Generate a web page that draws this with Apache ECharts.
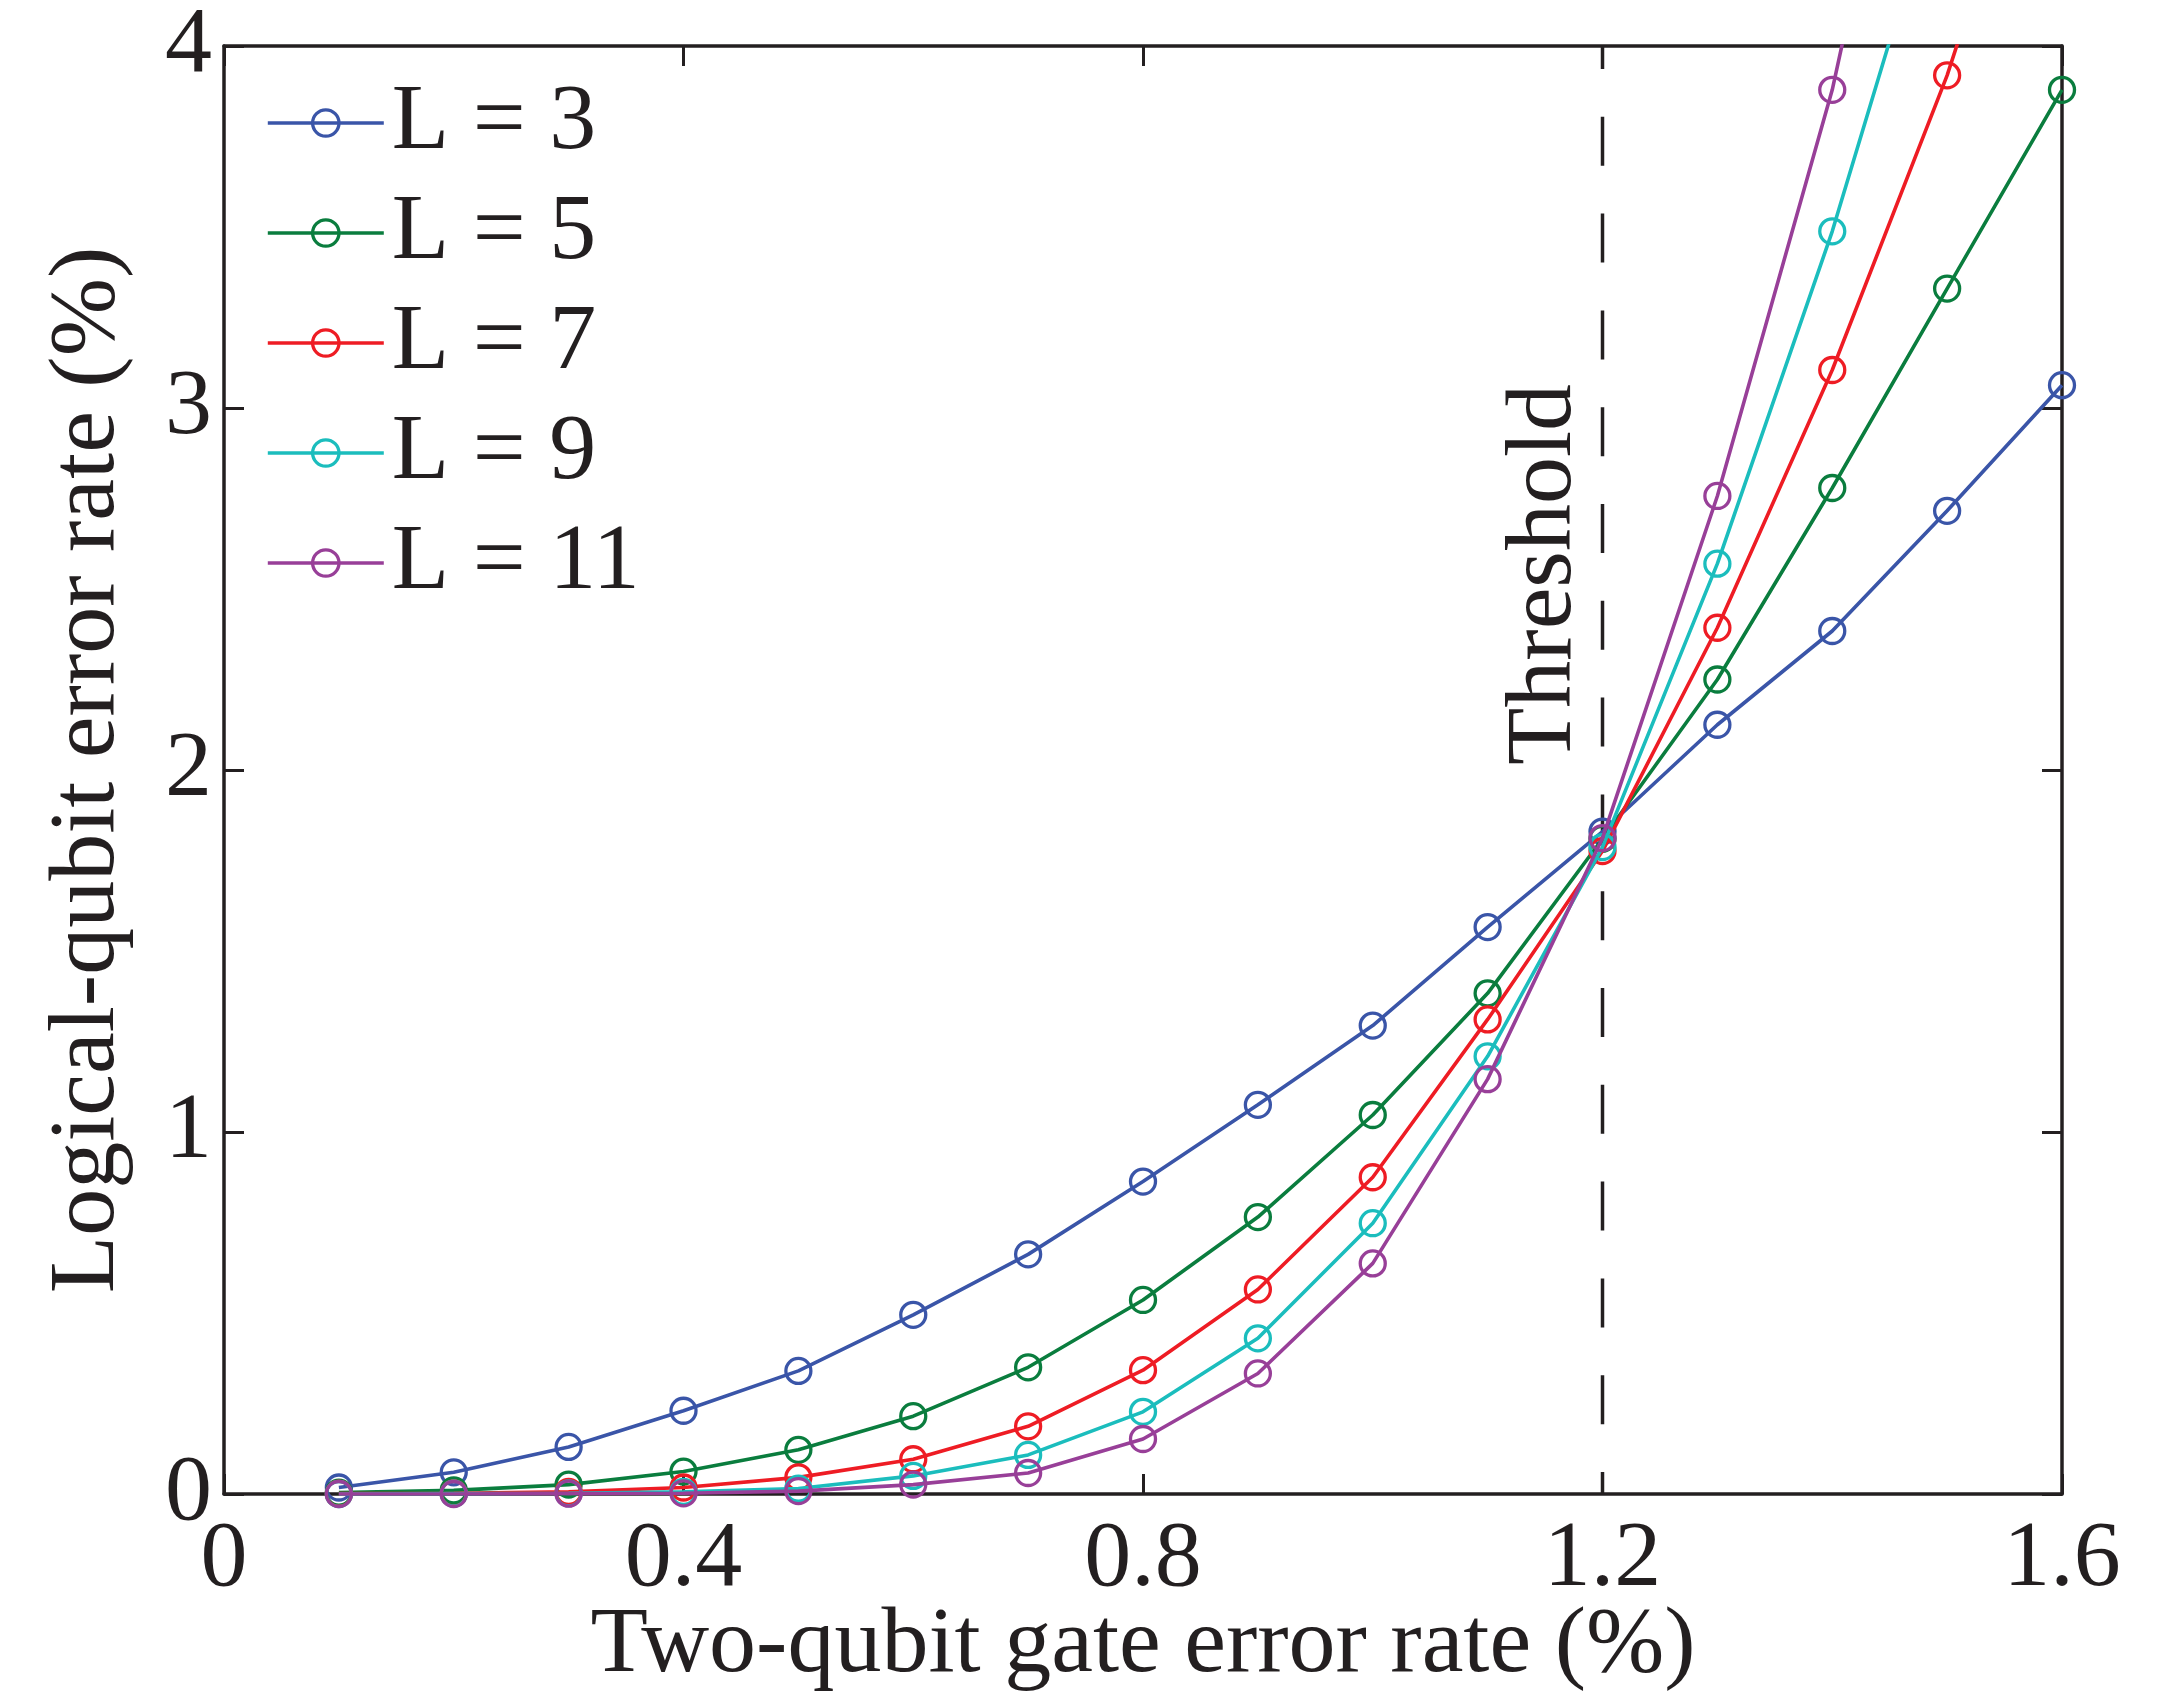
<!DOCTYPE html>
<html>
<head>
<meta charset="utf-8">
<script src="https://cdn.jsdelivr.net/npm/echarts@6/dist/echarts.min.js"></script>
<style>
html,body{margin:0;padding:0;background:#fff;}
#chart{width:2183px;height:1696px;}
</style>
</head>
<body>
<div id="chart"></div>
<script>
// Two-qubit gate error rate (%)
const xValues = [0.1, 0.2, 0.3, 0.4, 0.5, 0.6, 0.7, 0.8, 0.9, 1.0, 1.1, 1.2, 1.3, 1.4, 1.5, 1.6];
// Logical-qubit error rate (%) per code size
const seriesNames = ['L = 3', 'L = 5', 'L = 7', 'L = 9', 'L = 11'];
const L3  = [0.018, 0.060, 0.130, 0.230, 0.340, 0.495, 0.662, 0.863, 1.075, 1.294, 1.566, 1.830, 2.125, 2.384, 2.716, 3.063];
const L5  = [0.004, 0.010, 0.026, 0.062, 0.122, 0.215, 0.350, 0.536, 0.765, 1.047, 1.383, 1.810, 2.250, 2.779, 3.330, 3.879];
const L7  = [0.001, 0.002, 0.006, 0.018, 0.046, 0.096, 0.187, 0.342, 0.565, 0.875, 1.311, 1.776, 2.393, 3.105, 3.919, 4.890];
const L9  = [0.000, 0.001, 0.002, 0.006, 0.015, 0.050, 0.108, 0.227, 0.430, 0.748, 1.209, 1.787, 2.570, 3.488, 4.540];
const L11 = [0.000, 0.000, 0.001, 0.002, 0.008, 0.026, 0.058, 0.152, 0.333, 0.637, 1.146, 1.812, 2.757, 3.879, 5.330];
const seriesValues = [L3, L5, L7, L9, L11];
const seriesColors = ['#3a55a8', '#0a7d3e', '#ee1c24', '#1bbdbd', '#983f98'];
// Threshold
const thresholdX = 1.2;
const thresholdLabel = 'Threshold';
// Axes
const xTicks = [0, 0.4, 0.8, 1.2, 1.6];
const yTicks = [0, 1, 2, 3, 4];
const xTitle = 'Two-qubit gate error rate (%)';
const yTitle = 'Logical-qubit error rate (%)';

const FONT = '"Liberation Serif", "Times New Roman", serif';
const INK = '#231f20';
const LINE_W = 3.6;
const MARK_W = 3.3;

const chart = echarts.init(document.getElementById('chart'), null, {renderer: 'canvas'});

function axisBase(extra) {
  return Object.assign({
    type: 'value',
    axisLine: {show: true, onZero: false, lineStyle: {color: INK, width: 3.5}},
    axisTick: {show: true, inside: true, length: 20, lineStyle: {color: INK, width: 3}},
    splitLine: {show: false}
  }, extra);
}

const series = [];
series.push({
  name: 'threshold-line',
  type: 'line',
  data: [[thresholdX, yTicks[yTicks.length - 1]], [thresholdX, yTicks[0]]],
  symbol: 'none',
  silent: true,
  z: 1,
  lineStyle: {color: INK, width: 3.5, type: [49, 47.8], dashOffset: 26},
  xAxisIndex: 0, yAxisIndex: 0
});
seriesNames.forEach((name, i) => {
  series.push({
    name: name,
    type: 'line',
    data: seriesValues[i].map((v, j) => [xValues[j], v]),
    symbol: 'circle',
    symbolSize: 25,
    clip: true,
    z: 2 + i,
    lineStyle: {color: seriesColors[i], width: LINE_W},
    itemStyle: {color: 'rgba(255,255,255,0)', borderColor: seriesColors[i], borderWidth: MARK_W},
    emphasis: {disabled: true},
    xAxisIndex: 0, yAxisIndex: 0
  });
});

const option = {
  animation: false,
  backgroundColor: '#ffffff',
  grid: {left: 224, right: 121, top: 46, bottom: 202, containLabel: false, outerBoundsMode: 'none'},
  legend: {
    data: seriesNames,
    orient: 'vertical',
    left: 266,
    top: 76,
    padding: 0,
    itemWidth: 116,
    itemHeight: 33,
    itemGap: 16,
    selectedMode: false,
    lineStyle: {width: LINE_W},
    itemStyle: {borderWidth: MARK_W},
    textStyle: {fontFamily: FONT, fontSize: 94, color: INK, lineHeight: 94, padding: [0, 0, 0, 3]}
  },
  xAxis: [
    axisBase({
      position: 'bottom', min: xTicks[0], max: xTicks[xTicks.length - 1], interval: xTicks[1] - xTicks[0],
      axisLabel: {fontFamily: FONT, fontSize: 94, color: INK, margin: 19},
      name: xTitle, nameLocation: 'middle', nameGap: 105, nameMoveOverlap: false,
      nameTextStyle: {fontFamily: FONT, fontSize: 94, color: INK, lineHeight: 94}
    }),
    axisBase({
      position: 'top', min: xTicks[0], max: xTicks[xTicks.length - 1], interval: xTicks[1] - xTicks[0],
      axisLabel: {show: false}
    })
  ],
  yAxis: [
    axisBase({
      position: 'left', min: yTicks[0], max: yTicks[yTicks.length - 1], interval: yTicks[1] - yTicks[0],
      axisLabel: {fontFamily: FONT, fontSize: 94, color: INK, margin: 12},
      name: yTitle, nameLocation: 'middle', nameGap: 89, nameMoveOverlap: false,
      nameTextStyle: {fontFamily: FONT, fontSize: 94, color: INK, lineHeight: 94}
    }),
    axisBase({
      position: 'right', min: yTicks[0], max: yTicks[yTicks.length - 1], interval: yTicks[1] - yTicks[0],
      axisLabel: {show: false}
    })
  ],
  series: series
};
chart.setOption(option);

// Threshold label, anchored to the threshold line in data space
const anchor = chart.convertToPixel({gridIndex: 0}, [thresholdX, 2.54]);
chart.setOption({
  graphic: [{
    type: 'text',
    x: anchor[0] - 57,
    y: anchor[1],
    rotation: Math.PI / 2,
    silent: true,
    style: {text: thresholdLabel, font: '94px ' + FONT, fill: INK, align: 'center', verticalAlign: 'middle'}
  }]
});
</script>
</body>
</html>
